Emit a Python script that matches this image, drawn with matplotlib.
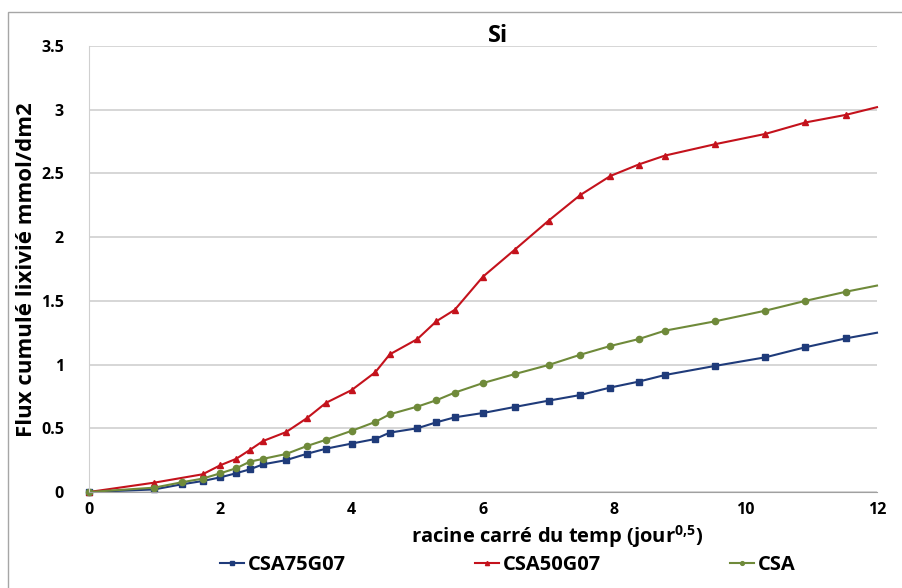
import matplotlib
matplotlib.use("Agg")
import matplotlib.pyplot as plt
from matplotlib.patches import Rectangle

# ---- data ----
x_common = [0, 0.99, 1.41, 1.73, 2.0, 2.24, 2.45, 2.65, 3.0, 3.32, 3.61, 4.0, 4.36, 4.58,
            5.0, 5.29, 5.57, 6.0, 6.48, 7.0, 7.48, 7.94, 8.37, 8.77, 9.54, 10.30, 10.91,
            11.53, 12.0]
csa75g07 = [0, 0.02, 0.06, 0.086, 0.115, 0.147, 0.178, 0.217, 0.25, 0.30, 0.34, 0.38,
            0.416, 0.466, 0.50, 0.547, 0.586, 0.62, 0.667, 0.717, 0.761, 0.82, 0.866,
            0.918, 0.99, 1.057, 1.136, 1.206, 1.25]
csa = [0, 0.034, 0.076, 0.105, 0.147, 0.186, 0.238, 0.26, 0.298, 0.361, 0.41, 0.48,
       0.55, 0.61, 0.67, 0.72, 0.78, 0.855, 0.925, 0.997, 1.077, 1.146, 1.20, 1.266,
       1.34, 1.423, 1.50, 1.572, 1.62]
x_red = [0, 0.99, 1.73, 2.0, 2.24, 2.45, 2.65, 3.0, 3.32, 3.61, 4.0, 4.36, 4.58,
         5.0, 5.29, 5.57, 6.0, 6.48, 7.0, 7.48, 7.94, 8.37, 8.77, 9.54, 10.30, 10.91,
         11.53, 12.0]
csa50g07 = [0, 0.073, 0.139, 0.21, 0.26, 0.33, 0.40, 0.47, 0.58, 0.70, 0.80, 0.94, 1.08,
            1.20, 1.34, 1.43, 1.69, 1.90, 2.13, 2.33, 2.48, 2.57, 2.64, 2.73, 2.81, 2.90,
            2.96, 3.02]
x_ticks = [0, 2, 4, 6, 8, 10, 12]
y_ticks = [0, 0.5, 1, 1.5, 2, 2.5, 3, 3.5]
y_ticklabels = ["0", "0.5", "1", "1.5", "2", "2.5", "3", "3.5"]

plt.rcParams['font.family'] = ['Open Sans', 'DejaVu Sans']
plt.rcParams['font.weight'] = 'bold'
plt.rcParams['mathtext.fontset'] = 'custom'
plt.rcParams['mathtext.bf'] = 'Open Sans:bold'
plt.rcParams['mathtext.rm'] = 'Open Sans:bold'

fig = plt.figure(figsize=(9.03, 5.88), dpi=100)
fig.patches.append(Rectangle((8 / 903, -0.1), 1.2, 1 - 12 / 588 + 0.1,
                             transform=fig.transFigure, fill=False,
                             edgecolor='#a6a6a6', linewidth=1.0))
ax = fig.add_axes([89 / 903, 1 - 492 / 588, (877 - 89) / 903, (492 - 46) / 588])

blue = '#1f3b7a'
red = '#c4121c'
green = '#6f8a3a'

ax.plot(x_common, csa75g07, color=blue, marker='s', markersize=5, linewidth=1.5,
        markevery=slice(0, -1), label='CSA75G07', clip_on=False)
ax.plot(x_red, csa50g07, color=red, marker='^', markersize=5, linewidth=1.5,
        markevery=slice(0, -1), label='CSA50G07', clip_on=False)
ax.plot(x_common, csa, color=green, marker='o', markersize=4.5, linewidth=1.5,
        markevery=slice(0, -1), label='CSA', clip_on=False)

ax.set_xlim(0, 12)
ax.set_ylim(0, 3.5)
ax.set_xticks(x_ticks)
ax.set_yticks(y_ticks)
ax.set_yticklabels(y_ticklabels)
ax.grid(axis='y', color='#d0d0d0', linewidth=1.2)
ax.set_axisbelow(True)
for s in ['top', 'right']:
    ax.spines[s].set_visible(False)
ax.spines['left'].set_color('#d0d0d0')
ax.spines['bottom'].set_color('#a0a0a0')
ax.tick_params(axis='both', length=0, labelsize=11.5)
ax.tick_params(axis='y', pad=18)
ax.tick_params(axis='x', pad=7)
for lbl in ax.get_xticklabels() + ax.get_yticklabels():
    lbl.set_fontweight('bold')

fig.text(498 / 903, 1 - 36 / 588, 'Si', ha='center', va='center',
         fontsize=17, fontweight='bold')
fig.text(557 / 903, 1 - 537 / 588, r'racine carré du temp (jour$^{\mathbf{0{,}5}}$)',
         ha='center', va='center', fontsize=14.5, fontweight='bold')
fig.text(27 / 903, 1 - 270 / 588, 'Flux cumulé lixivié mmol/dm2', ha='center',
         va='center', rotation=90, fontsize=16, fontweight='bold')

leg = fig.legend(loc='center', bbox_to_anchor=(508 / 903, 1 - 565 / 588), ncol=3,
                 frameon=False, fontsize=14.5, handlelength=1.2, handletextpad=0.2,
                 columnspacing=6.4, markerscale=0.6)
for t in leg.get_texts():
    t.set_fontweight('bold')

fig.savefig('out.png', dpi=100)
